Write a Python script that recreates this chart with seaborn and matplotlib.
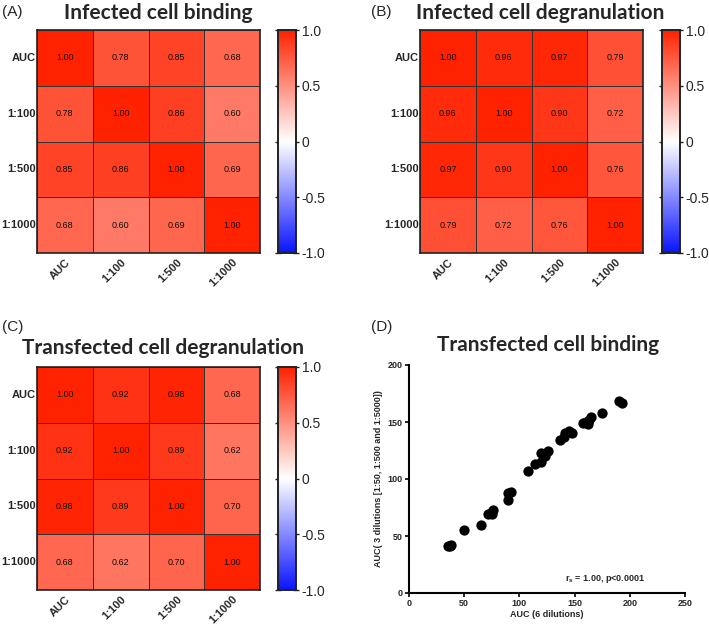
import numpy as np
import pandas as pd
import matplotlib
matplotlib.use("Agg")
import matplotlib.pyplot as plt
from matplotlib.colors import LinearSegmentedColormap
import seaborn as sns

sns.set_theme(style="white")
plt.rcParams['font.family'] = ['Liberation Sans', 'DejaVu Sans']

labels = ["AUC", "1:100", "1:500", "1:1000"]

binding_inf = [[1.00, 0.78, 0.85, 0.68],
               [0.78, 1.00, 0.86, 0.60],
               [0.85, 0.86, 1.00, 0.69],
               [0.68, 0.60, 0.69, 1.00]]
degran_inf = [[1.00, 0.96, 0.97, 0.79],
              [0.96, 1.00, 0.90, 0.72],
              [0.97, 0.90, 1.00, 0.76],
              [0.79, 0.72, 0.76, 1.00]]
degran_trans = [[1.00, 0.92, 0.98, 0.68],
                [0.92, 1.00, 0.89, 0.62],
                [0.98, 0.89, 1.00, 0.70],
                [0.68, 0.62, 0.70, 1.00]]

auc6 = [35, 37, 38, 50, 65, 72, 74, 75, 76, 90, 90, 92, 108, 114, 120, 120, 123,
        126, 137, 140, 141, 145, 148, 158, 160, 162, 163, 165, 175, 190, 193]
auc3 = [41, 41, 42, 55, 60, 69, 70, 69, 73, 88, 82, 89, 107, 113, 115, 123, 120,
        125, 134, 137, 140, 142, 140, 149, 150, 148, 152, 154, 158, 168, 167]

cbar_ticks = [-1.0, -0.5, 0.0, 0.5, 1.0]
cbar_labels = ["-1.0", "-0.5", "0", "0.5", "1.0"]

cmap = LinearSegmentedColormap.from_list("rw", ["#0A14FF", "#FFFFFF", "#FF2200"])

W, H = 709, 624
fig = plt.figure(figsize=(W / 100, H / 100), dpi=100)


def fr(x0, y0, x1, y1):
    return [x0 / W, 1 - y1 / H, (x1 - x0) / W, (y1 - y0) / H]


def heat(data, hbox, cbox, title, title_xy, letter, letter_xy):
    ax = fig.add_axes(fr(*hbox))
    cax = fig.add_axes(fr(*cbox))
    df = pd.DataFrame(data, index=labels, columns=labels)
    sns.heatmap(df, ax=ax, cbar_ax=cax, vmin=-1, vmax=1, cmap=cmap, annot=True,
                fmt=".2f", annot_kws={"fontsize": 6.5, "color": "#111111"},
                linewidths=0.7, linecolor="#333333")
    for s in ax.spines.values():
        s.set_visible(True)
        s.set_linewidth(1.2)
        s.set_color("#222222")
    ax.tick_params(left=False, bottom=False, length=0)
    ax.tick_params(axis="y", pad=0.8)
    ax.tick_params(axis="x", pad=3)
    ax.set_yticklabels(labels, rotation=0, fontsize=8, fontweight="bold")
    ax.set_xticklabels(labels, rotation=45, ha="right", rotation_mode="anchor",
                       fontsize=8, fontweight="bold")
    ax.set_xlabel("")
    ax.set_ylabel("")
    cax.set_yticks(cbar_ticks)
    cax.set_yticklabels(cbar_labels, fontsize=10)
    cax.tick_params(left=True, right=True, direction="inout", length=4, width=1,
                    color="#222222", pad=2)
    for s in cax.spines.values():
        s.set_visible(True)
        s.set_linewidth(1.2)
        s.set_color("#222222")
    fig.text(title_xy[0] / W, 1 - title_xy[1] / H, title, ha="center", va="center",
             fontsize=15, fontweight="bold", family=["Lato", "DejaVu Sans"])
    fig.text(letter_xy[0] / W, 1 - letter_xy[1] / H, letter, ha="left", va="center",
             fontsize=11)


heat(binding_inf, (37, 30, 260, 253), (278, 30, 296, 253),
     "Infected cell binding", (158, 13), "(A)", (2, 12))
heat(degran_inf, (420, 30, 643, 253), (662, 30, 680, 253),
     "Infected cell degranulation", (540, 13), "(B)", (371, 12))
heat(degran_trans, (37, 367, 260, 590), (278, 367, 296, 590),
     "Transfected cell degranulation", (163, 348), "(C)", (2, 327))

# Panel D scatter
ax = fig.add_axes(fr(409, 365, 685, 593))
sns.scatterplot(x=auc6, y=auc3, ax=ax, color="black", s=55, edgecolor="black",
                linewidth=0, zorder=3)
ax.set_xlim(0, 250)
ax.set_ylim(0, 200)
ax.set_xticks([0, 50, 100, 150, 200, 250])
ax.set_yticks([0, 50, 100, 150, 200])
for lab in ax.get_xticklabels() + ax.get_yticklabels():
    lab.set_fontsize(6.5)
    lab.set_fontweight("bold")
ax.tick_params(axis="both", direction="out", length=3, width=1.2, color="black",
               left=True, bottom=True, pad=1.5)
for side in ["top", "right"]:
    ax.spines[side].set_visible(False)
for side in ["left", "bottom"]:
    ax.spines[side].set_linewidth(1.5)
    ax.spines[side].set_color("black")
ax.set_xlabel("AUC (6 dilutions)", fontsize=6.5, fontweight="bold", labelpad=1)
ax.set_ylabel("AUC( 3 dilutions [1:50, 1:500 and 1:5000])", fontsize=6.5,
              fontweight="bold", labelpad=3)
ax.text(141, 12, r"r$_\mathregular{s}$ = 1.00, p<0.0001", fontsize=6.5,
        fontweight="bold", ha="left", va="center")
fig.text(548 / W, 1 - 345 / H, "Transfected cell binding", ha="center", va="center",
         fontsize=15, fontweight="bold", family=["Lato", "DejaVu Sans"])
fig.text(371 / W, 1 - 327 / H, "(D)", ha="left", va="center", fontsize=11)

fig.savefig("out.png", dpi=100, facecolor="white")
